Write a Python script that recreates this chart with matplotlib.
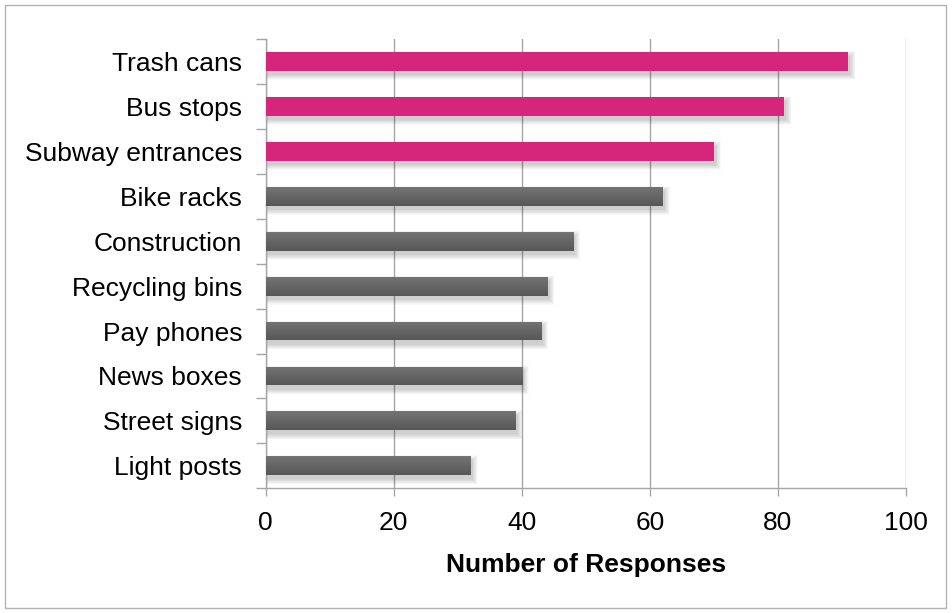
import numpy as np
import matplotlib.pyplot as plt
from matplotlib.patches import Rectangle
from matplotlib.colors import LinearSegmentedColormap

plt.rcParams['font.family'] = ['Liberation Sans', 'DejaVu Sans']

categories = ['Trash cans', 'Bus stops', 'Subway entrances', 'Bike racks', 'Construction',
              'Recycling bins', 'Pay phones', 'News boxes', 'Street signs', 'Light posts']
responses = [91, 81, 70, 62, 48, 44, 43, 40, 39, 32]
highlighted = [True, True, True, False, False, False, False, False, False, False]

PINK = '#D6267C'
GREY_TOP = '#747474'
GREY_BOTTOM = '#575757'
AXIS_GREY = '#A6A6A6'

W, H = 952, 613
fig = plt.figure(figsize=(W / 100, H / 100), dpi=100)
ax_left, ax_bottom, ax_w, ax_h = 0.2791, 0.2034, 0.6726, 0.7330
ax = fig.add_axes([ax_left, ax_bottom, ax_w, ax_h])

# outer frame around the whole chart area
fig.patches.append(Rectangle((5 / W, 5 / H), 941 / W, 603 / H, transform=fig.transFigure,
                             fill=False, edgecolor='#B3B3B3', linewidth=1.0))

n = len(categories)
ypos = np.arange(n)[::-1]
bar_h = 0.42
xmax = 100

ax.set_xlim(0, xmax)
ax.set_ylim(-0.5, n - 0.5)

# pixel -> data conversion for the soft shadows
px_x = xmax / (ax_w * W)
px_y = n / (ax_h * H)

for y, v in zip(ypos, responses):
    for k in range(8):
        grow = 5 - k * 0.7
        ax.add_patch(Rectangle((2 * px_x - grow * px_x, y - bar_h / 2 - 4 * px_y - grow * px_y),
                               v + 2 * grow * px_x, bar_h + 2 * grow * px_y,
                               facecolor='black', edgecolor='none', alpha=0.025, zorder=2))

colors = [PINK if h else GREY_BOTTOM for h in highlighted]
bars = ax.barh(ypos, responses, height=bar_h, color=colors, edgecolor='none', zorder=3)

# vertical shading on the grey bars
grad = LinearSegmentedColormap.from_list('bar_grad', [GREY_BOTTOM, GREY_TOP])
for bar, h in zip(bars, highlighted):
    if h:
        continue
    x0, y0 = bar.get_x(), bar.get_y()
    img = ax.imshow(np.linspace(0, 1, 64).reshape(-1, 1), cmap=grad, aspect='auto',
                    origin='lower', extent=(x0, x0 + bar.get_width(), y0, y0 + bar.get_height()),
                    zorder=4, interpolation='bilinear')
    img.set_clip_path(bar)
ax.set_xlim(0, xmax)
ax.set_ylim(-0.5, n - 0.5)

ax.set_xticks(np.arange(0, 101, 20))
ax.xaxis.grid(True, color=AXIS_GREY, linewidth=1.0, zorder=0)
ax.set_axisbelow(True)

ax.set_yticks(ypos)
ax.set_yticklabels(categories, fontsize=19)
ax.set_yticks(np.arange(-0.5, n, 1.0), minor=True)
ax.tick_params(axis='y', which='major', length=0, pad=17)
ax.tick_params(axis='y', which='minor', length=7, width=1, color=AXIS_GREY)
ax.tick_params(axis='x', length=6, width=1, color=AXIS_GREY, labelsize=19, pad=10)

for side in ['top', 'right']:
    ax.spines[side].set_visible(False)
for side in ['left', 'bottom']:
    ax.spines[side].set_color(AXIS_GREY)
    ax.spines[side].set_linewidth(1.0)

ax.set_xlabel('Number of Responses', fontsize=19, fontweight='bold', labelpad=13)

fig.savefig('out.png', dpi=100)
